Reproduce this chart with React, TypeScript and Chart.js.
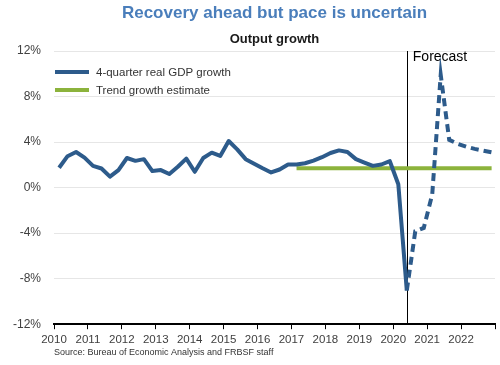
import React, { useEffect, useRef } from "react";
import { Chart, registerables } from "chart.js";

Chart.register(...registerables);

const FONT = "'Liberation Sans', Arial, sans-serif";

const actualQuarters = [
  "2010Q1", "2010Q2", "2010Q3", "2010Q4",
  "2011Q1", "2011Q2", "2011Q3", "2011Q4",
  "2012Q1", "2012Q2", "2012Q3", "2012Q4",
  "2013Q1", "2013Q2", "2013Q3", "2013Q4",
  "2014Q1", "2014Q2", "2014Q3", "2014Q4",
  "2015Q1", "2015Q2", "2015Q3", "2015Q4",
  "2016Q1", "2016Q2", "2016Q3", "2016Q4",
  "2017Q1", "2017Q2", "2017Q3", "2017Q4",
  "2018Q1", "2018Q2", "2018Q3", "2018Q4",
  "2019Q1", "2019Q2", "2019Q3", "2019Q4",
  "2020Q1", "2020Q2",
];
const actualGrowth = [
  1.74, 2.76, 3.13, 2.63,
  1.91, 1.68, 0.96, 1.54,
  2.6, 2.35, 2.5, 1.45,
  1.54, 1.19, 1.83, 2.55,
  1.39, 2.6, 3.07, 2.78,
  4.09, 3.36, 2.5, 2.1,
  1.7, 1.33, 1.59, 2.03,
  2.03, 2.14, 2.37, 2.67,
  3.04, 3.27, 3.13, 2.5,
  2.2, 1.91, 2.03, 2.32,
  0.29, -9.04,
];

const forecastQuarters = [
  "2020Q2", "2020Q3", "2020Q4",
  "2021Q1", "2021Q2", "2021Q3", "2021Q4",
  "2022Q1", "2022Q2", "2022Q3", "2022Q4",
];
const forecastGrowth = [-9.04, -3.83, -3.54, -0.6, 9.9, 4.2, 3.85, 3.6, 3.4, 3.25, 3.1];

const trendQuarters = ["2017Q1", "2022Q4"];
const trendGrowth = [1.7, 1.7];

const forecastStart = "2020Q2";

const yearTicks = [2010, 2011, 2012, 2013, 2014, 2015, 2016, 2017, 2018, 2019, 2020, 2021, 2022];
const yTickValues = [-12, -8, -4, 0, 4, 8, 12];

const TITLE = "Recovery ahead but pace is uncertain";
const SUBTITLE = "Output growth";
const SOURCE = "Source: Bureau of Economic Analysis and FRBSF staff";
const FORECAST_LABEL = "Forecast";
const LEGEND_LABELS = ["4-quarter real GDP growth", "Trend growth estimate"];

const BLUE = "#2d5b8b";
const GREEN = "#8cb33c";

function quarterToX(label: string): number {
  const year = parseInt(label.slice(0, 4), 10);
  const q = parseInt(label.slice(5), 10);
  return year + (q - 1) / 4 + 0.15;
}

function toPoints(quarters: string[], values: number[]) {
  return quarters.map((q, i) => ({ x: quarterToX(q), y: values[i] }));
}

const decorPlugin = {
  id: "decor",
  beforeDatasetsDraw(chart: any) {
    const { ctx, chartArea, scales } = chart;
    const x = Math.round(scales.x.getPixelForValue(quarterToX(forecastStart))) + 0.5;
    ctx.save();
    ctx.strokeStyle = "#000";
    ctx.lineWidth = 1;
    ctx.beginPath();
    ctx.moveTo(x, chartArea.top);
    ctx.lineTo(x, chartArea.bottom);
    ctx.stroke();
    ctx.restore();
  },
  afterDraw(chart: any) {
    const { ctx, chartArea, scales } = chart;
    const cx = (chartArea.left + chartArea.right) / 2;
    ctx.save();
    // Title
    ctx.fillStyle = "#4a7ebb";
    ctx.font = `bold 17px ${FONT}`;
    ctx.textAlign = "center";
    ctx.textBaseline = "alphabetic";
    ctx.fillText(TITLE, cx, 17.5);
    // Subtitle
    ctx.fillStyle = "#1a1a1a";
    ctx.font = `bold 13px ${FONT}`;
    ctx.textBaseline = "middle";
    ctx.fillText(SUBTITLE, cx, 39);
    // Forecast label
    const fx = scales.x.getPixelForValue(quarterToX(forecastStart));
    ctx.fillStyle = "#000";
    ctx.font = `14px ${FONT}`;
    ctx.textAlign = "left";
    ctx.fillText(FORECAST_LABEL, fx + 6, 57);
    // Source
    ctx.fillStyle = "#333";
    ctx.font = `9px ${FONT}`;
    ctx.fillText(SOURCE, 54, 353);
    // Legend
    const colors = [BLUE, GREEN];
    LEGEND_LABELS.forEach((lab, i) => {
      const y = 72 + i * 18;
      ctx.strokeStyle = colors[i];
      ctx.lineWidth = 4;
      ctx.beginPath();
      ctx.moveTo(55, y);
      ctx.lineTo(89, y);
      ctx.stroke();
      ctx.fillStyle = "#333";
      ctx.font = `11.5px ${FONT}`;
      ctx.fillText(lab, 96, y + 1);
    });
    ctx.restore();
  },
};

export default function App() {
  const ref = useRef<HTMLCanvasElement | null>(null);
  useEffect(() => {
    document.body.style.margin = "0";
    if (!ref.current) return;
    const chart = new Chart(ref.current, {
      type: "line",
      data: {
        datasets: [
          {
            label: LEGEND_LABELS[0],
            data: toPoints(actualQuarters, actualGrowth),
            borderColor: BLUE,
            borderWidth: 4,
            pointRadius: 0,
            tension: 0,
            borderJoinStyle: "round",
          },
          {
            label: "Forecast",
            data: toPoints(forecastQuarters, forecastGrowth),
            borderColor: BLUE,
            borderWidth: 4,
            borderDash: [8, 5],
            pointRadius: 0,
            tension: 0,
          },
          {
            label: LEGEND_LABELS[1],
            data: toPoints(trendQuarters, trendGrowth),
            borderColor: GREEN,
            borderWidth: 4,
            pointRadius: 0,
          },
        ],
      },
      options: {
        animation: false,
        responsive: false,
        devicePixelRatio: 1,
        parsing: false as any,
        layout: { padding: { top: 51, right: 5, bottom: 14, left: 0 } },
        plugins: {
          legend: { display: false },
          tooltip: { enabled: false },
          title: { display: false },
        },
        scales: {
          x: {
            type: "linear",
            min: 2010,
            max: 2023,
            afterBuildTicks: (scale: any) => {
              scale.ticks = [...yearTicks, 2023].map((v) => ({ value: v }));
            },
            ticks: {
              callback: (v: any) => (yearTicks.includes(v) ? String(v) : ""),
              font: { family: FONT, size: 11.5 },
              color: "#404040",
              maxRotation: 0,
              autoSkip: false,
              padding: 4,
            },
            grid: {
              drawOnChartArea: false,
              drawTicks: true,
              tickLength: 5,
              tickColor: "#000",
              tickWidth: 1,
            },
            border: { display: true, color: "#000", width: 2 },
          },
          y: {
            min: -12,
            max: 12,
            afterBuildTicks: (scale: any) => {
              scale.ticks = yTickValues.map((v) => ({ value: v }));
            },
            afterFit: (scale: any) => {
              scale.width = 54;
            },
            ticks: {
              callback: (v: any) => `${v}%`,
              font: { family: FONT, size: 12 },
              color: "#404040",
              padding: 13,
            },
            grid: { color: "#e6e6e6", drawTicks: false, lineWidth: 1 },
            border: { display: false },
          },
        },
      },
      plugins: [decorPlugin],
    });
    return () => chart.destroy();
  }, []);
  return <canvas ref={ref} width={500} height={365} style={{ display: "block" }} />;
}
